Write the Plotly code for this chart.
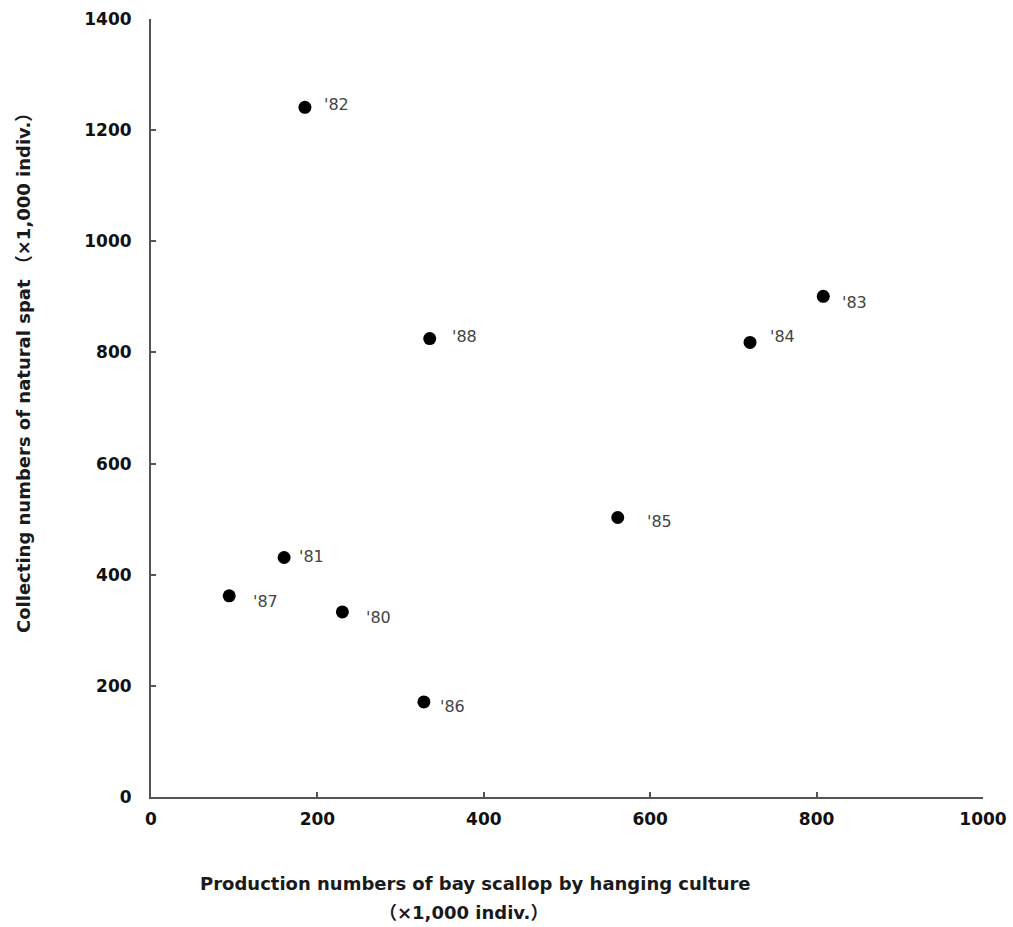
import plotly.graph_objects as go

years = ["'80", "'81", "'82", "'83", "'84", "'85", "'86", "'87", "'88"]
production = [230, 160, 185, 808, 720, 561, 328, 94, 335]
spat = [333, 431, 1241, 901, 818, 503, 171, 362, 825]
# label pixel offsets (dx, dy)
label_dx = [22, 13, 17, 17, 18, 27, 14, 22, 20]
label_dy = [6, -1, -3, 6, -6, 4, 5, 6, -2]

x_ticks = [0, 200, 400, 600, 800, 1000]
y_ticks = [0, 200, 400, 600, 800, 1000, 1200, 1400]

FONT = "DejaVu Sans"
L, T, W, H = 151, 19, 832, 778


def px(xp):
    return (xp - L) / W


def py(yp):
    return (T + H - yp) / H


fig = go.Figure()
fig.add_trace(go.Scatter(
    x=production, y=spat, mode="markers",
    marker=dict(color="black", size=13),
    hoverinfo="skip", showlegend=False,
))

for x, y, t, dx, dy in zip(production, spat, years, label_dx, label_dy):
    fig.add_annotation(x=x, y=y, text=t, showarrow=False, xanchor="left",
                       yanchor="middle", xshift=dx, yshift=-dy,
                       font=dict(family=FONT, size=16, color="#444"))

title_font = dict(family=FONT + ", Noto Sans CJK JP", size=18, color="#1a1a1a", weight="bold")
fig.add_annotation(xref="paper", yref="paper", x=px(475), y=py(883),
                   text="Production numbers of bay scallop by hanging culture",
                   showarrow=False, xanchor="center", yanchor="middle", font=title_font)
fig.add_annotation(xref="paper", yref="paper", x=px(463), y=py(912),
                   text="\uff08\u00d71,000 indiv.\uff09",
                   showarrow=False, xanchor="center", yanchor="middle", font=title_font)
fig.add_annotation(xref="paper", yref="paper", x=px(23), y=py(369),
                   text="Collecting numbers of natural spat \uff08\u00d71,000 indiv.\uff09",
                   showarrow=False, textangle=-90, xanchor="center", yanchor="middle",
                   font=title_font)

axis_common = dict(showgrid=False, zeroline=False, showline=True, linecolor="#555",
                   linewidth=2, ticks="inside", ticklen=5, tickcolor="#555", tickwidth=1.5,
                   tickfont=dict(family=FONT, size=17, color="#111", weight="bold"))
fig.update_xaxes(range=[0, 1000], tickvals=x_ticks, ticklabelstandoff=6, **axis_common)
fig.update_yaxes(range=[0, 1400], tickvals=y_ticks, ticklabelstandoff=14, **axis_common)

fig.update_layout(width=1013, height=927, plot_bgcolor="white", paper_bgcolor="white",
                  margin=dict(l=L, r=1013 - L - W, t=T, b=927 - T - H, autoexpand=False))
fig.write_html("out.html")
